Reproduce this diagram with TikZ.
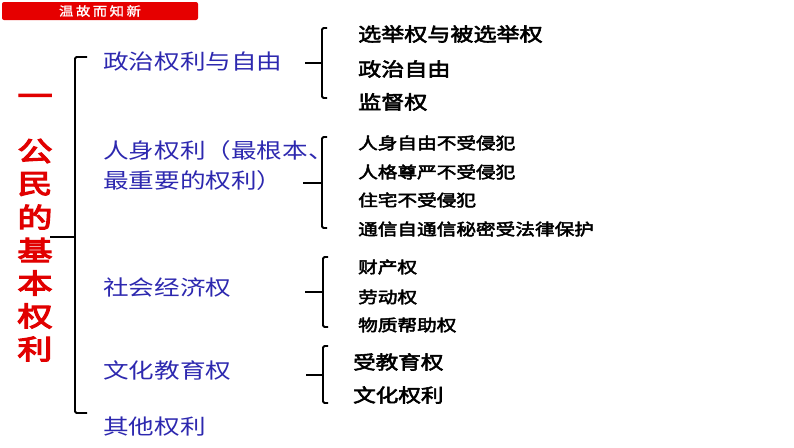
\documentclass[tikz,border=0pt]{standalone}
\usepackage{fontspec}
\newfontfamily\cjk{Noto Sans CJK SC}[FakeStretch=1.22]
\newfontfamily\cjkb{Noto Sans CJK SC}[FakeStretch=1.22,AutoFakeBold=3]
\newfontfamily\cjkbb{Noto Sans CJK SC}[FakeStretch=1.3,AutoFakeBold=4.5]
\newfontfamily\cjkh{Noto Sans CJK SC}[FakeStretch=1.15,AutoFakeBold=1.5]
\definecolor{hdrred}{RGB}{230,0,0}
\definecolor{catblue}{RGB}{45,40,175}
\definecolor{titlered}{RGB}{225,0,0}
\begin{document}
\begin{tikzpicture}[x=1pt,y=-1pt,
  cat/.style={anchor=west,inner sep=0pt,text=catblue,font=\cjk\fontsize{21}{25}\selectfont},
  itemA/.style={anchor=west,inner sep=0pt,font=\cjkb\bfseries\fontsize{18.9}{22}\selectfont},
  itemB/.style={anchor=west,inner sep=0pt,font=\cjkb\bfseries\fontsize{16.1}{19}\selectfont},
  itemD/.style={anchor=west,inner sep=0pt,font=\cjkb\bfseries\fontsize{18.5}{22}\selectfont},
  brk/.style={draw,line width=1.8pt,rounded corners=1.5pt},
  redch/.style={inner sep=0pt,text=titlered,font=\cjkbb\bfseries\fontsize{27}{30}\selectfont}]
\useasboundingbox (0,0) rectangle (794,447);
% header
\node[fill=hdrred,rounded corners=2pt,minimum width=196pt,minimum height=18pt,inner sep=0pt,
  text=white,font=\cjkh\bfseries\fontsize{12.5}{14}\selectfont] (hdr) at (100,11) {温\hspace{2.5pt}故\hspace{2.5pt}而\hspace{2.5pt}知\hspace{2.5pt}新};
% red vertical title
\node[redch] (t0) at (35,100) {一};
\node[redch] (t1) at (35,151) {公};
\node[redch] (t2) at (35,184) {民};
\node[redch] (t3) at (35,217) {的};
\node[redch] (t4) at (35,250) {基};
\node[redch] (t5) at (35,283) {本};
\node[redch] (t6) at (35,316) {权};
\node[redch] (t7) at (35,349) {利};
% main bracket
\coordinate (mtop) at (87,57);
\coordinate (mbot) at (87,413);
\coordinate (mmid) at (50,237);
\draw[brk] (mtop) -- (75,57) -- (75,413) -- (mbot);
\draw[line width=1.8pt] (mmid) -- (75,237);
% categories
\node[cat] (c1) at (103,62) {政治权利与自由};
\node[cat] (c2a) at (103,151) {人身权利（最根本、};
\node[cat] (c2b) at (103,181) {最重要的权利）};
\node[cat] (c3) at (103,288) {社会经济权};
\node[cat] (c4) at (103,370) {文化教育权};
\node[cat] (c5) at (103,427) {其他权利};
% sub brackets
\draw[brk] (327,28) -- (322,28) -- (322,98) -- (327,98);
\draw[line width=1.8pt] (305,63) -- (322,63);
\draw[brk] (327,137) -- (322,137) -- (322,228) -- (327,228);
\draw[line width=1.8pt] (303,183) -- (322,183);
\draw[brk] (328,257) -- (323,257) -- (323,327) -- (328,327);
\draw[line width=1.8pt] (305,292) -- (323,292);
\draw[brk] (328,346) -- (323,346) -- (323,403) -- (328,403);
\draw[line width=1.8pt] (306,375) -- (323,375);
% items
\node[itemA] (a1) at (358,34) {选举权与被选举权};
\node[itemA] (a2) at (358,69) {政治自由};
\node[itemA] (a3) at (358,102) {监督权};
\node[itemB] (b1) at (358,143) {人身自由不受侵犯};
\node[itemB] (b2) at (358,172) {人格尊严不受侵犯};
\node[itemB] (b3) at (358,200) {住宅不受侵犯};
\node[itemB] (b4) at (358,229) {通信自通信秘密受法律保护};
\node[itemB] (s1) at (358,267) {财产权};
\node[itemB] (s2) at (358,297) {劳动权};
\node[itemB] (s3) at (358,325) {物质帮助权};
\node[itemD] (d1) at (353,362) {受教育权};
\node[itemD] (d2) at (353,395) {文化权利};
\end{tikzpicture}
\end{document}
